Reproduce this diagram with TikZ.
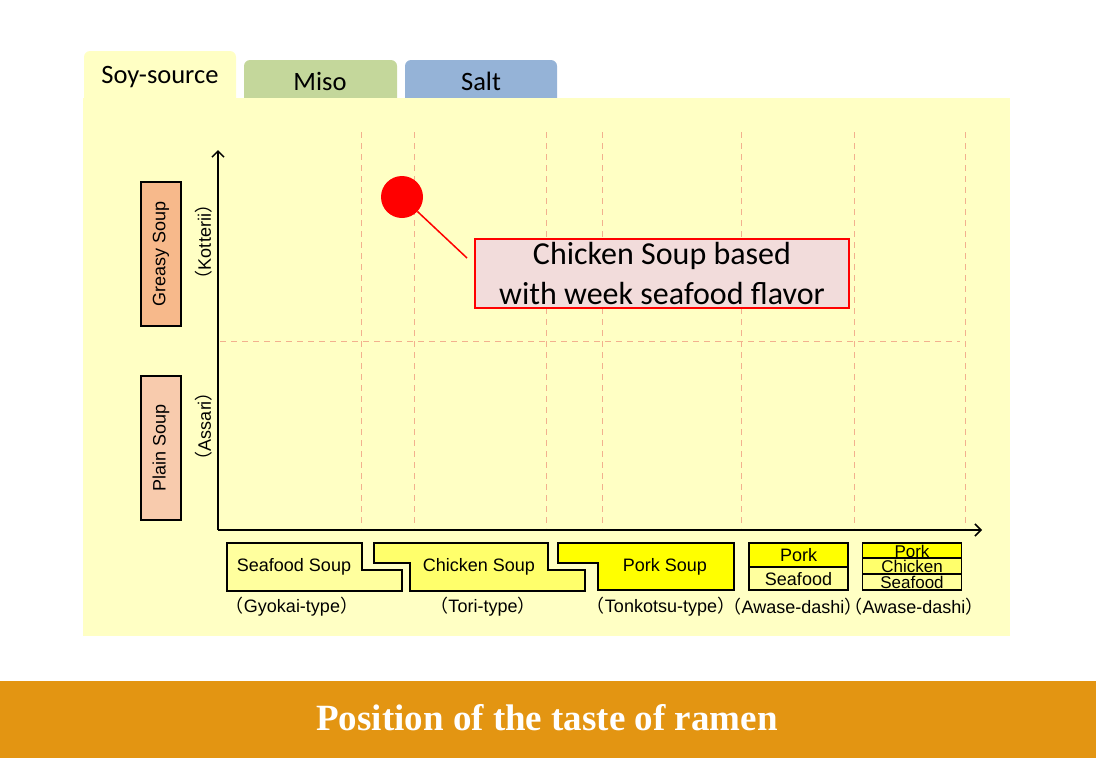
\documentclass[tikz,border=0pt]{standalone}
\usepackage{fontspec}
\setmainfont{Liberation Sans}
\newfontfamily\calib{Carlito}
\newfontfamily\titlefont{Liberation Serif}
\newfontfamily\cjk{Noto Sans CJK JP}
\usetikzlibrary{arrows.meta,positioning}
\newcommand{\kakko}[1]{{\cjk （}#1{\cjk ）}}

\definecolor{SY}{HTML}{FFFFC4}
\definecolor{MI}{HTML}{C4D79B}
\definecolor{SA}{HTML}{95B3D7}
\definecolor{DL}{HTML}{F2B08E}
\definecolor{GR}{HTML}{F7B98B}
\definecolor{PL}{HTML}{F8CBAD}
\definecolor{CB}{HTML}{F2DCDB}
\definecolor{LY}{HTML}{FFFF9E}
\definecolor{MY}{HTML}{FFFF6B}
\definecolor{BY}{HTML}{FFFF00}
\definecolor{OR}{HTML}{E39512}

\begin{document}
\begin{tikzpicture}[x=1pt, y=-1pt, >={Straight Barb[length=6pt,width=12pt]},
    every node/.style={font=\fontsize{18}{20}\selectfont},
    tab/.style={font=\calib\fontsize{26.5}{30}\selectfont},
    side/.style={draw, line width=1.2pt, rotate=90, minimum width=144, minimum height=40, inner sep=0},
    cell/.style={draw, line width=1.2pt, minimum width=99, inner sep=0, outer sep=0, text height=13.5pt, text depth=0pt},
    soup/.style={draw, line width=1.2pt}]
    \useasboundingbox (0,0) rectangle (1096,758);
    % tabs and panel
    \fill[SY, rounded corners=6pt] (84,110) |- (236,51) |- cycle;
    \fill[MI, rounded corners=6pt] (244,110) |- (397,60) |- cycle;
    \fill[SA, rounded corners=6pt] (405,110) |- (557,60) |- cycle;
    \fill[SY] (83,98) rectangle (1010,636);
    \node[tab] (soy) at (160,77) {Soy-source};
    \node[tab] (miso) at (320,81) {Miso};
    \node[tab] (salt) at (481,81) {Salt};

    % grid
    \foreach \x in {361,414,546,602,741,854,965}
        \draw[DL, dash pattern=on 6pt off 5pt] (\x,132) -- ++(0,396);
    \draw[DL, dash pattern=on 6pt off 5pt] (220,341) -- ++(740,0);

    % axes
    \coordinate (O) at (218,530);
    \coordinate (ytop) at (218,150);
    \coordinate (xend) at (982,530);
    \draw[line width=1.5pt, ->] (O) -- (ytop);
    \draw[line width=1.5pt, ->] (O) -- (xend);

    \node[side, fill=GR] (greasy) at (161,254) {Greasy Soup};
    \node[side, fill=PL] (plain) at (161,448) {Plain Soup};
    \node[rotate=90] (kot) at (204,242) {\kakko{Kotterii}};
    \node[rotate=90] (ass) at (204,426) {\kakko{Assari}};

    % point and callout
    \node[circle, fill=red, minimum size=42, inner sep=0] (dot) at (402,197) {};
    \node[draw=red, line width=1.5pt, fill=CB, minimum width=374, minimum height=69, align=center,
        font=\calib\fontsize{32}{40}\selectfont] (call) at (662,273.5) {Chicken Soup based\\with week seafood flavor};
    \coordinate (tip) at (467,258);
    \draw[red, line width=1.5pt] (dot) -- (tip);

    % soup types
    \draw[soup, fill=LY] (227,543) -- ++(135,0) -- ++(0,27) -- ++(40,0) -- ++(0,21) -- ++(-175,0) -- cycle;
    \node (sea) at (294,567) {Seafood Soup};
    \draw[soup, fill=MY] (374,543) -- ++(174,0) -- ++(0,27) -- ++(37,0) -- ++(0,21) -- ++(-175,0) -- ++(0,-28) -- ++(-36,0) -- cycle;
    \node (chi) at (479,567) {Chicken Soup};
    \draw[soup, fill=BY] (558,543) -- ++(176,0) -- ++(0,47) -- ++(-136,0) -- ++(0,-27) -- ++(-40,0) -- cycle;
    \node (por) at (665,567) {Pork Soup};

    \node[cell, fill=BY, minimum height=24] (pk2) at (798.5,555) {Pork};
    \node[cell, fill=LY, minimum height=23, below=0pt of pk2] (sf2) {Seafood};
    \node[cell, fill=BY, minimum height=15, font=\fontsize{17}{18}\selectfont] (pk3) at (912,550.5) {Pork};
    \node[cell, fill=MY, minimum height=16, font=\fontsize{17}{18}\selectfont, below=0pt of pk3] (ch3) {Chicken};
    \node[cell, fill=LY, minimum height=16, font=\fontsize{17}{18}\selectfont, below=0pt of ch3] (sf3) {Seafood};

    \node (gy) at (292,607) {\kakko{Gyokai-type}};
    \node (to) at (483,607) {\kakko{Tori-type}};
    \node (tk) at (661,607) {\kakko{Tonkotsu-type}};
    \node (aw2) at (793,607) {\kakko{Awase-dashi}};
    \node (aw3) at (914,607) {\kakko{Awase-dashi}};

    % title bar
    \fill[OR] (0,681) rectangle (1096,758);
    \node[text=white, font=\titlefont\bfseries\fontsize{37}{40}\selectfont] (title) at (547,718) {Position of the taste of ramen};
\end{tikzpicture}
\end{document}
